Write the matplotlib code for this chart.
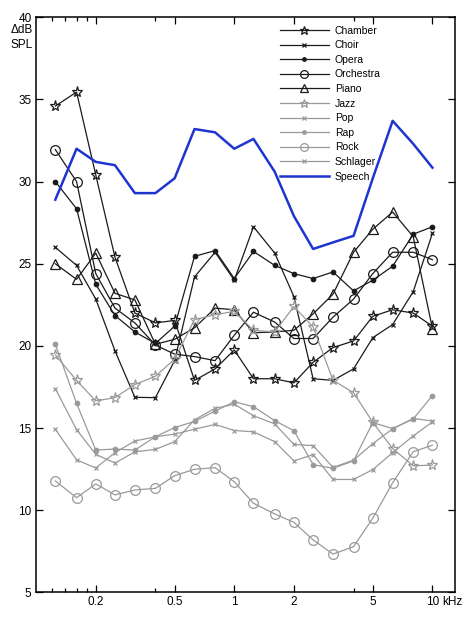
import matplotlib
matplotlib.use("Agg")
from matplotlib import pyplot as plt
from matplotlib.ticker import FixedLocator, NullFormatter

plt.rcParams['font.family'] = ['Liberation Sans', 'DejaVu Sans']

# third-octave band centres, kHz
freqs = [0.125, 0.16, 0.2, 0.25, 0.315, 0.4, 0.5, 0.63, 0.8, 1,
         1.25, 1.6, 2, 2.5, 3.15, 4, 5, 6.3, 8, 10]

chamber = [34.6, 35.45, 30.4, 25.4, 22.0, 21.4, 21.55, 17.9, 18.6, 19.75,
           18.0, 18.0, 17.75, 19.0, 19.9, 20.3, 21.8, 22.2, 22.0, 21.2]
choir = [26.0, 24.9, 22.85, 19.7, 16.87, 16.85, 19.1, 24.2, 25.7, 24.0,
         27.25, 25.65, 23.0, 18.0, 17.9, 18.6, 20.5, 21.3, 23.3, 26.85]
opera = [30.0, 28.35, 23.75, 21.85, 20.85, 20.15, 21.2, 25.45, 25.8, 24.1,
         25.75, 24.9, 24.4, 24.1, 24.5, 23.35, 24.0, 24.85, 26.8, 27.25]
orchestra = [31.95, 30.0, 24.4, 22.3, 21.4, 20.05, 19.5, 19.35, 19.1, 20.65,
             22.05, 21.45, 20.45, 20.45, 21.75, 22.85, 24.4, 25.7, 25.7, 25.25]
piano = [25.0, 24.05, 25.65, 23.2, 22.8, 20.1, 20.4, 21.1, 22.3, 22.2,
         20.8, 20.85, 20.95, 21.95, 23.15, 25.7, 27.1, 28.15, 26.65, 21.05]
jazz = [19.45, 17.9, 16.65, 16.85, 17.65, 18.15, 19.2, 21.6, 21.9, 22.1,
        20.95, 20.85, 22.4, 21.15, 17.9, 17.15, 15.35, 13.75, 12.7, 12.75]
pop = [17.4, 14.9, 13.4, 12.87, 13.55, 13.7, 14.17, 15.5, 16.2, 16.45,
       15.75, 15.25, 14.0, 13.93, 12.6, 13.05, 14.05, 14.95, 15.58, 15.43]
rap = [20.1, 16.5, 13.66, 13.72, 13.66, 14.47, 15.03, 15.4, 16.03, 16.6,
       16.3, 15.45, 14.84, 12.77, 12.55, 13.0, 15.33, 14.97, 15.55, 16.98]
rock = [11.78, 10.76, 11.6, 10.93, 11.23, 11.33, 12.1, 12.49, 12.59, 11.73,
        10.42, 9.77, 9.26, 8.19, 7.33, 7.78, 9.51, 11.67, 13.56, 13.95]
schlager = [14.93, 13.06, 12.57, 13.5, 14.21, 14.47, 14.63, 14.93, 15.22, 14.85,
            14.77, 14.17, 13.0, 13.38, 11.87, 11.87, 12.47, 13.5, 14.52, 15.37]
speech = [28.9, 32.0, 31.2, 31.0, 29.3, 29.3, 30.2, 33.2, 33.0, 32.0,
          32.6, 30.6, 27.9, 25.9, 26.3, 26.7, 30.2, 33.7, 32.3, 30.85]

dark = '#1a1a1a'
grey = '#9a9a9a'

fig = plt.figure(figsize=(4.74, 6.19), dpi=100)
ax = fig.add_axes([0.0753, 0.0431, 0.8853, 0.9289])

def curve(vals, name, col, mk, ms, open_mk=False):
    ax.plot(freqs, vals, color=col, lw=0.9, marker=mk, ms=ms,
            mfc='none' if open_mk else col, mec=col, mew=0.9, label=name)

curve(chamber, 'Chamber', dark, '*', 8, True)
curve(choir, 'Choir', dark, 'x', 3.5)
curve(opera, 'Opera', dark, 'o', 3.2)
curve(orchestra, 'Orchestra', dark, 'o', 7, True)
curve(piano, 'Piano', dark, '^', 7.5, True)
curve(jazz, 'Jazz', grey, '*', 8, True)
curve(pop, 'Pop', grey, 'x', 3.5)
curve(rap, 'Rap', grey, 'o', 3.2)
curve(rock, 'Rock', grey, 'o', 7, True)
curve(schlager, 'Schlager', grey, 'x', 3.5)
ax.plot(freqs, speech, color='#1f35d0', lw=1.8, label='Speech')

ax.set_xscale('log')
ax.set_xlim(0.0995, 13.05)
ax.set_ylim(5, 40)
ax.xaxis.set_major_locator(FixedLocator([0.2, 0.5, 1, 2, 5, 10]))
ax.xaxis.set_minor_locator(FixedLocator([0.12, 0.14, 0.16, 0.18, 0.4, 4]))
ax.xaxis.set_minor_formatter(NullFormatter())
ax.set_xticklabels(['0.2', '0.5', '1', '2', '5', '10'])
ax.set_yticks(range(5, 41, 5))
ax.tick_params(which='both', direction='in', top=True, right=True,
               labelsize=8.5, pad=3, width=0.9)
ax.tick_params(which='major', length=5)
ax.tick_params(which='minor', length=3)
for s in ax.spines.values():
    s.set_linewidth(1.1)

ax.annotate('kHz', xy=(10, 0), xycoords=('data', 'axes fraction'),
            xytext=(7, -3), textcoords='offset points', ha='left', va='top',
            fontsize=8.5)
fig.text(22 / 474, 1 - 30 / 619, '\u0394dB', ha='center', va='center', fontsize=8.5)
fig.text(22 / 474, 1 - 45 / 619, 'SPL', ha='center', va='center', fontsize=8.5)

ax.legend(loc='upper left', bbox_to_anchor=(0.577, 0.989), frameon=False,
          fontsize=7.5, handlelength=4.7, handletextpad=0.58,
          labelspacing=0.44, borderpad=0.2, borderaxespad=0, markerscale=0.8)

fig.savefig('out.png', dpi=100)
